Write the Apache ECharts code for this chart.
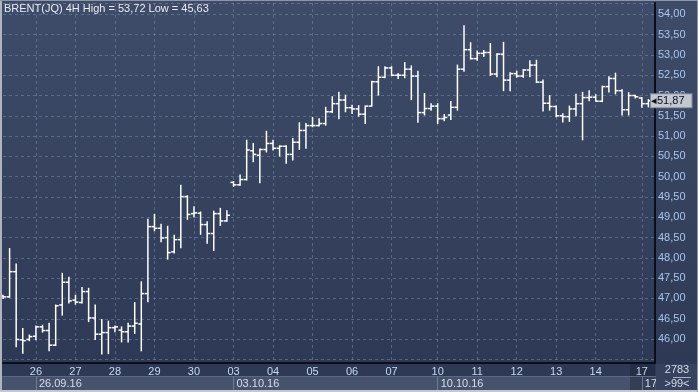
<!DOCTYPE html>
<html><head><meta charset="utf-8">
<style>html,body{margin:0;padding:0;background:#2e3a55;}#c{width:698px;height:392px;}</style>
<script src="https://cdn.jsdelivr.net/npm/echarts@6/dist/echarts.min.js"></script>
</head><body><div id="c"></div>
<script>
const titleText = 'BRENT(JQ) 4H High = 53,72 Low = 45,63';
// trading days shown and number of 4H slots per day (last day includes one empty slot)
const dayNames   = ['23','26','27','28','29','30','03','04','05','06','07','10','11','12','13','14','17'];
const barsPerDay = [5, 6, 6, 6, 6, 6, 6, 6, 6, 6, 7, 6, 6, 6, 6, 7, 3];
const weekLabels = {'26':'26.09.16', '03':'03.10.16', '10':'10.10.16', '17':'17'};
const openP  = [47.06,47.04,47.66,45.98,45.99,46.07,46.30,46.21,45.85,46.84,47.40,46.96,46.90,47.17,46.52,46.12,46.16,46.28,46.22,46.18,46.32,46.37,47.12,48.77,48.73,48.50,48.15,48.45,49.51,49.09,49.10,48.82,48.60,49.09,48.91,49.86,49.80,49.93,50.64,50.53,50.67,50.82,50.70,50.75,50.55,50.85,51.14,51.26,51.26,51.31,51.60,51.80,51.89,51.70,51.67,51.54,51.74,52.34,52.45,52.68,52.50,52.50,52.65,52.48,51.58,51.68,51.74,51.43,51.52,51.71,52.65,53.13,52.91,53.04,53.06,52.53,53.02,52.38,52.54,52.48,52.63,52.75,52.33,51.81,51.73,51.50,51.48,51.67,51.80,51.95,51.96,51.86,52.22,52.42,52.12,51.65,52.00,51.94,51.80];
const highP  = [47.08,48.23,47.85,46.26,46.10,46.32,46.34,46.39,46.84,47.62,47.52,47.08,47.27,47.25,46.84,46.48,46.44,46.32,46.30,46.39,46.90,47.41,48.95,49.07,48.83,48.78,48.56,49.79,49.53,49.26,49.13,48.89,49.15,49.22,49.16,49.88,50.04,50.90,50.82,50.68,51.12,50.90,50.76,50.76,50.94,51.33,51.31,51.46,51.43,51.71,51.97,52.08,52.01,51.76,51.75,51.74,52.35,52.71,52.71,52.71,52.54,52.81,52.73,52.60,52.05,51.80,51.80,51.53,51.85,52.75,53.72,53.30,53.10,53.11,53.28,53.03,53.31,52.56,52.60,52.64,52.86,52.87,52.38,52.00,51.74,51.55,51.74,52.03,52.08,52.12,52.02,52.23,52.46,52.55,52.14,52.07,52.01,51.95,51.90];
const lowP   = [47.00,47.03,45.81,45.65,45.96,45.98,46.17,45.71,45.84,46.59,46.89,46.86,46.89,46.43,45.99,45.63,45.64,46.18,45.93,45.93,46.14,45.71,46.92,48.67,48.40,47.97,48.12,48.25,48.95,49.01,48.58,48.36,48.18,48.80,48.90,49.76,49.79,49.92,50.37,49.85,50.61,50.66,50.51,50.33,50.41,50.67,50.70,51.23,51.25,51.27,51.58,51.43,51.60,51.56,51.49,51.31,51.74,52.01,52.44,52.49,52.42,52.44,51.90,51.34,51.52,51.64,51.31,51.38,51.41,51.64,52.60,52.90,52.87,52.96,52.50,52.46,52.12,52.12,52.45,52.45,52.46,52.32,51.62,51.64,51.48,51.35,51.36,51.50,50.91,51.87,51.86,51.85,52.09,52.04,51.52,51.52,51.94,51.71,51.72];
const closeP = [47.04,47.66,45.99,45.96,46.06,46.30,46.21,45.85,46.82,47.40,46.94,46.91,47.17,46.52,46.12,46.16,46.28,46.30,46.18,46.32,46.39,47.12,48.77,48.73,48.49,48.13,48.45,49.51,49.07,49.11,48.82,48.60,49.09,48.91,49.05,49.80,49.93,50.66,50.55,50.67,50.82,50.70,50.75,50.55,50.85,51.14,51.26,51.26,51.31,51.60,51.80,51.89,51.70,51.67,51.54,51.74,52.34,52.45,52.68,52.50,52.50,52.65,52.48,51.58,51.68,51.74,51.43,51.46,51.71,52.65,53.13,52.91,53.04,53.06,52.53,53.02,52.38,52.54,52.48,52.63,52.75,52.33,51.81,51.73,51.50,51.48,51.67,51.80,51.95,51.96,51.86,52.22,52.42,52.12,51.65,52.00,51.97,51.80,51.87];
const lastPrice = 51.87;
const lastPriceLabel = '51,87';
const yMin = 45.41, yMax = 54.28;
const yLabelFrom = 46.0;
const footerTop = '2783', footerBottom = '>99<';

// build category slots
const categories = [];
const dayStartLabel = {};
const weekStartLabel = {};
dayNames.forEach((d, di) => {
  for (let k = 0; k < barsPerDay[di]; k++) {
    const idx = categories.length;
    categories.push(d + '#' + k);
    if (k === 0 && idx > 0) {
      dayStartLabel[idx] = d;
      if (weekLabels[d]) weekStartLabel[idx] = weekLabels[d];
    }
  }
});
const seriesData = openP.map((o, i) => [i, o, highP[i], lowP[i], closeP[i]]);

const FONT = "'Liberation Sans Narrow', 'Liberation Sans', Arial, sans-serif";
const gridColor = 'rgba(120,136,170,0.55)';

const chart = echarts.init(document.getElementById('c'), null, {renderer: 'canvas'});
chart.setOption({
  animation: false,
  title: {
    text: titleText, left: 4, top: 3, padding: 0,
    textStyle: {fontSize: 11, fontWeight: 'normal', color: '#e8edf6', fontFamily: FONT}
  },
  grid: {left: 3, right: 43, top: 3, bottom: 29, containLabel: false},
  xAxis: [{
    type: 'category', data: categories, boundaryGap: false,
    axisLine: {show: true, lineStyle: {color: '#0a0e16', width: 2}},
    axisTick: {show: false},
    axisLabel: {
      interval: (i) => dayStartLabel[i] !== undefined,
      formatter: (v, i) => dayStartLabel[i] || '',
      color: '#c6d8f4', fontSize: 11, fontFamily: FONT, margin: 3
    },
    splitLine: {show: true, interval: (i) => dayStartLabel[i] !== undefined,
      lineStyle: {color: gridColor, type: [3, 3], width: 1}}
  }, {
    type: 'category', data: categories, boundaryGap: false, position: 'bottom', offset: 13,
    axisLine: {show: true, lineStyle: {color: '#5c6884', width: 1}},
    axisTick: {show: true, interval: (i) => weekStartLabel[i] !== undefined, length: 14,
      lineStyle: {color: '#6e7a96', width: 1}},
    axisLabel: {
      interval: (i) => weekStartLabel[i] !== undefined,
      formatter: (v, i) => weekStartLabel[i] || '',
      align: 'left', padding: [0, 0, 0, 3],
      color: '#d6deea', fontSize: 11, fontFamily: FONT, margin: 2
    },
    splitLine: {show: false}
  }],
  yAxis: {
    type: 'value', position: 'right', min: yMin, max: yMax, splitNumber: 18, scale: true,
    axisLine: {show: true, lineStyle: {color: '#0a0e16', width: 2}},
    axisTick: {show: false},
    axisLabel: {
      formatter: (v) => v < yLabelFrom - 0.01 ? '' : v.toFixed(2).replace('.', ','),
      color: '#a8c6ef', fontSize: 11, fontFamily: FONT, margin: 3,
      showMinLabel: false, showMaxLabel: false
    },
    splitLine: {show: true, lineStyle: {color: gridColor, type: [3, 3], width: 1}}
  },
  series: [{
    type: 'custom',
    data: seriesData,
    encode: {x: 0, y: [1, 2, 3, 4]},
    renderItem: function (params, api) {
      const x = api.value(0);
      const pH = api.coord([x, api.value(2)]);
      const pL = api.coord([x, api.value(3)]);
      const pO = api.coord([x, api.value(1)]);
      const pC = api.coord([x, api.value(4)]);
      const w = api.size([1, 0])[0] * 0.46;
      const px = pH[0];
      const st = {stroke: '#ffffff', lineWidth: 1.5};
      return {type: 'group', children: [
        {type: 'line', shape: {x1: px, y1: pH[1] - 0.5, x2: px, y2: pL[1] + 0.5}, style: st},
        {type: 'line', shape: {x1: px - w, y1: pO[1], x2: px, y2: pO[1]}, style: st},
        {type: 'line', shape: {x1: px, y1: pC[1], x2: px + w, y2: pC[1]}, style: st}
      ]};
    },
    markLine: {
      silent: true,
      symbol: ['none', 'none'],
      lineStyle: {color: '#c3c7cf', width: 0},
      label: {
        show: true, position: 'end', formatter: '◂' + lastPriceLabel, distance: -4,
        backgroundColor: '#c3c7cf', borderColor: '#808898', borderWidth: 1,
        color: '#0a1222', fontSize: 11, fontFamily: FONT, padding: [1, 7, 1, 0]
      },
      data: [{yAxis: lastPrice}]
    }
  }],
  graphic: [
    {type: 'rect', z: -100, shape: {x: 0, y: 0, width: 698, height: 392},
      style: {fill: new echarts.graphic.LinearGradient(0, 0, 0, 1, [
        {offset: 0, color: '#3f4c69'}, {offset: 1, color: '#2c3853'}])}},
    {type: 'rect', z: -90, shape: {x: 0, y: 364, width: 698, height: 12}, style: {fill: '#2e3a55'}},
    {type: 'rect', z: -90, shape: {x: 0, y: 376, width: 698, height: 14}, style: {fill: '#47536d'}},
    {type: 'rect', z: -80, shape: {x: 630, y: 364, width: 25, height: 26}, style: {fill: 'rgba(18,26,44,0.35)'}},
    {type: 'rect', z: 50, shape: {x: 656, y: 364, width: 42, height: 27}, style: {fill: '#36425e'}},
    {type: 'text', z: 51, style: {x: 677, y: 370, text: footerTop, fill: '#d4dcea', font: '11px ' + FONT, align: 'center', verticalAlign: 'middle'}},
    {type: 'line', z: 51, shape: {x1: 673, y1: 377.5, x2: 691, y2: 377.5}, style: {stroke: '#a9b3c7', lineWidth: 1}},
    {type: 'text', z: 51, style: {x: 677, y: 384, text: footerBottom, fill: '#d4dcea', font: '11px ' + FONT, align: 'center', verticalAlign: 'middle'}},
    {type: 'rect', z: 60, shape: {x: 0, y: 0, width: 2, height: 392}, style: {fill: '#aeb4c0'}},
    {type: 'rect', z: 60, shape: {x: 0, y: 0, width: 698, height: 1}, style: {fill: '#8e96a6'}},
    {type: 'rect', z: 60, shape: {x: 0, y: 390, width: 698, height: 2}, style: {fill: '#c4c8d0'}},
    {type: 'rect', z: 60, shape: {x: 697, y: 0, width: 1, height: 392}, style: {fill: '#8e96a6'}}
  ]
});
</script>
</body></html>
